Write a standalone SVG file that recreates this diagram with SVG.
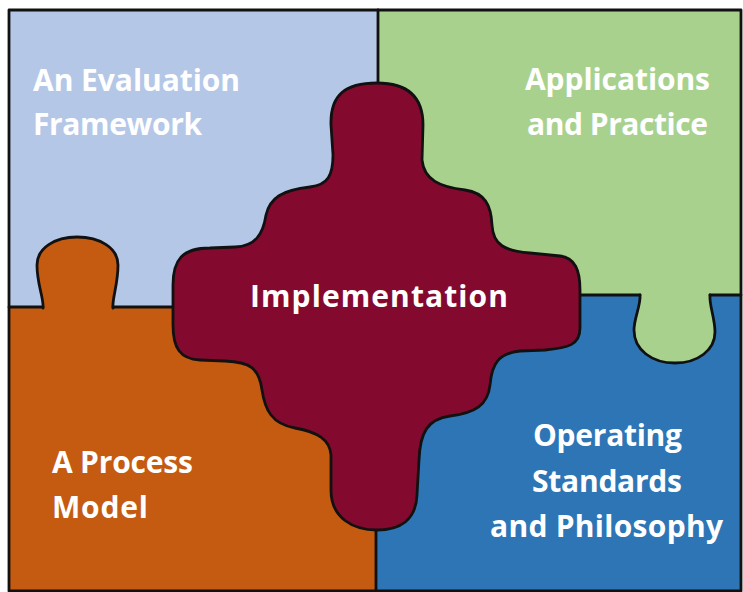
<svg xmlns="http://www.w3.org/2000/svg" width="743" height="592" viewBox="0 0 743 592">
<style>
.line{fill:none;stroke:#111;stroke-width:2.8;stroke-linejoin:round;stroke-linecap:round}
.lbl{font-family:"Open Sans","Liberation Sans",sans-serif;font-weight:bold;fill:#fff;font-size:30px}
</style>
<rect width="743" height="592" fill="#fff"/>
<g id="evaluation">
<rect x="9" y="10" width="369" height="297" fill="#B4C7E7"/>
<text class="lbl" x="33" y="91" textLength="207">An Evaluation</text>
<text class="lbl" x="33" y="135" textLength="169">Framework</text>
</g>
<g id="applications">
<rect x="378" y="10" width="363" height="285" fill="#A9D18E"/>
<text class="lbl" x="525" y="90" textLength="185">Applications</text>
<text class="lbl" x="527" y="135" textLength="181">and Practice</text>
</g>
<g id="process">
<rect x="9" y="307" width="367" height="284" fill="#C55A11"/>
<path d="M43 308 C44 298 37 285 37 265 C37 248 55 237 77 237 C100 237 118 248 118 265 C118 285 112 298 113 308 Z" fill="#C55A11"/>
<text class="lbl" x="52" y="473" textLength="141">A Process</text>
<text class="lbl" x="52" y="518" textLength="96">Model</text>
</g>
<g id="operating">
<rect x="376" y="295" width="365" height="296" fill="#2E75B6"/>
<path d="M640 294 C641 305 634 318 634 330 C634 350 652 363 675 363 C698 363 715 350 715 332 C715 318 709 305 710 294 Z" fill="#A9D18E"/>
<text class="lbl" x="533" y="446" textLength="149">Operating</text>
<text class="lbl" x="532" y="492" textLength="150">Standards</text>
<text class="lbl" x="490" y="537" textLength="233">and Philosophy</text>
</g>
<g id="connectors">
<path class="line" d="M378 10 V120 M9 307 H43 M113 307 H200 M376 440 V591 M580 295 H640 M710 295 H741"/>
<path class="line" d="M43 308 C44 298 37 285 37 265 C37 248 55 237 77 237 C100 237 118 248 118 265 C118 285 112 298 113 308"/>
<path class="line" d="M640 295 C641 305 634 318 634 330 C634 350 652 363 675 363 C698 363 715 350 715 332 C715 318 709 305 710 295"/>
<rect class="line" x="9" y="10" width="732" height="581"/>
</g>
<g id="implementation">
<path d="M377 83 C405 83 423 95 423 125 L422 160 C424 180 440 187 465 190 C485 193 491 205 492 225 C493 245 505 251 530 253 L560 256 C575 258 580 270 580 290 L580 328 C580 345 568 348 545 350 L520 351 C500 353 492 362 490 385 C488 405 475 413 450 416 C428 419 420 432 419 460 L417 495 C416 520 400 530 377 530 C353 530 331 518 331 490 L331 455 C330 440 318 432 295 428 C272 424 265 410 262 390 C259 368 250 362 225 361 L200 360 C180 359 173 348 173 325 L173 285 C173 260 182 248 210 248 L235 247 C255 246 263 235 266 215 C270 198 282 190 310 187 C328 185 333 175 333 155 L331 125 C330 95 345 83 377 83 Z" fill="#830A2E" stroke="#111" stroke-width="2.8" stroke-linejoin="round"/>
<text class="lbl" x="250" y="307" textLength="258">Implementation</text>
</g>
</svg>
